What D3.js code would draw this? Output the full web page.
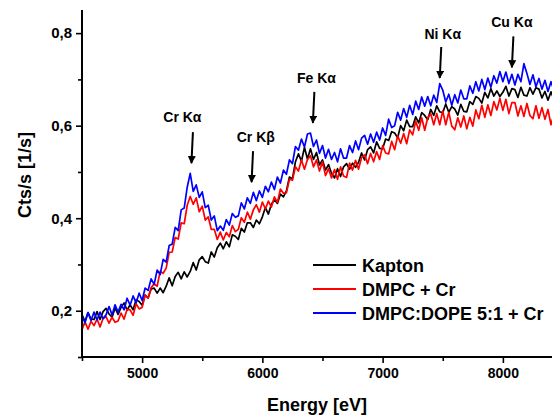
<!DOCTYPE html>
<meta charset = "utf-8">
<html>
  <head>
    <title>XRF spectra</title>
    <style>
      body { margin: 0; background: #fff; }
      text { font-family: Arial, "Liberation Sans", sans-serif; font-weight: bold; fill: #000; }
    </style>
  </head>
  <body>
    <script src="https://d3js.org/d3.v7.min.js"></script>
  <script>

  /*
      Data (energy grid in eV, counts in cts/s)
  */
  var energyStart = 4500, energyStep = 25;

  var kapton = [
    .191,.177,.196,.182, .181,.198,.181,.198, .205,.193,.186,.206, .192,.207,.217,.201,
    .213,.202,.224,.220, .212,.234,.228,.247, .249,.238,.249,.239, .253,.271,.254,.274,
    .283,.269,.284,.273, .285,.304,.288,.310, .317,.306,.303,.327, .316,.336,.346,.334,
    .349,.338,.364,.361, .354,.378,.370,.390, .390,.380,.396,.388, .403,.423,.409,.430,
    .440,.432,.452,.446, .459,.489,.485,.522, .539,.523,.553,.528, .550,.527,.542,.515,
    .526,.504,.516,.497, .487,.507,.490,.511, .518,.506,.519,.510, .521,.541,.526,.548,
    .554,.541,.565,.551, .550,.571,.568,.587, .584,.574,.600,.589, .612,.598,.598,.619,
    .606,.628,.622,.613, .635,.622,.643,.630, .628,.647,.629,.641, .636,.623,.646,.631,
    .630,.652,.646,.663, .659,.649,.672,.660, .680,.664,.675,.663, .672,.685,.664,.680,
    .678,.661,.683,.666, .664,.682,.668,.682, .679,.660,.674,.655, .673,.657,.673
  ];

  var dmpc = [
    .159,.176,.160,.177, .168,.182,.165,.183, .187,.173,.186,.175, .178,.195,.182,.203,
    .202,.190,.215,.204, .207,.234,.227,.250, .258,.253,.285,.281, .292,.326,.327,.358,
    .355,.390,.388,.428, .447,.430,.444,.414, .426,.396,.403,.376, .376,.354,.370,.353,
    .369,.360,.384,.371, .376,.401,.391,.413, .398,.418,.429,.413, .435,.420,.437,.424,
    .446,.434,.463,.454, .455,.484,.482,.511, .502,.526,.506,.527, .535,.511,.526,.502,
    .522,.492,.507,.487, .505,.484,.511,.491, .488,.519,.504,.525, .506,.531,.537,.518,
    .540,.522,.544,.527, .557,.541,.539,.566, .548,.578,.562,.583, .561,.591,.580,.610,
    .590,.617,.590,.617, .626,.602,.626,.602, .632,.602,.629,.599, .591,.617,.597,.621,
    .593,.618,.599,.634, .615,.644,.618,.645, .622,.652,.634,.659, .633,.657,.626,.650,
    .650,.621,.643,.620, .648,.622,.615,.643, .616,.639,.614,.635, .602,.625,.600
  ];

  var dmpcDope = [
    .189,.174,.196,.179, .197,.180,.197,.183, .191,.209,.191,.213, .197,.214,.202,.227,
    .212,.232,.217,.238, .222,.249,.244,.269, .257,.288,.278,.311, .305,.341,.344,.380,
    .373,.418,.422,.467, .497,.458,.472,.445, .457,.423,.428,.396, .405,.373,.383,.374,
    .397,.385,.410,.402, .405,.433,.420,.444, .432,.456,.438,.459, .445,.469,.457,.478,
    .462,.489,.476,.504, .495,.526,.518,.555, .547,.571,.554,.582, .584,.555,.569,.540,
    .557,.530,.549,.527, .542,.522,.550,.530, .530,.557,.542,.567, .548,.573,.579,.560,
    .582,.564,.586,.569, .595,.579,.614,.596, .600,.629,.612,.637, .618,.644,.624,.653,
    .635,.662,.642,.663, .643,.666,.650,.691, .677,.651,.668,.644, .667,.649,.677,.658,
    .658,.686,.670,.695, .675,.700,.678,.703, .683,.708,.692,.717, .695,.716,.691,.711,
    .688,.711,.695,.734, .713,.689,.710,.684, .702,.679,.698,.674, .695,.676,.695
  ];

  var seriesNames = ["Kapton", "DMPC + Cr", "DMPC:DOPE 5:1 + Cr"];
  var seriesColors = ["#000000", "#ff0000", "#0000ff"];

  // peak labels: line energy, where the label sits, arrow tip value, label value
  var peakLabels = ["Cr K\u03b1", "Cr K\u03b2", "Fe K\u03b1", "Ni K\u03b1", "Cu K\u03b1"];
  var peakEnergy = [5410, 5910, 6420, 7475, 8075];
  var peakTextEnergy = [5335, 5945, 6450, 7500, 8075];
  var peakTip = [0.519, 0.478, 0.606, 0.703, 0.726];
  var peakText = [0.608, 0.565, 0.692, 0.787, 0.813];

  var xMajor = [5000, 6000, 7000, 8000];
  var xMinor = [4500, 5500, 6500, 7500];
  var yMajor = [0.2, 0.4, 0.6, 0.8];
  var yMinor = [0.1, 0.3, 0.5, 0.7];

  /*
      Chart
  */
  var width = 552, height = 415;

  var svg = d3.select("body").append("svg")
      .attr("width", width)
      .attr("height", height);

  var x = d3.scaleLinear()
      .domain([4500, 8500])
      .range([82, 563]);

  var y = d3.scaleLinear()
      .domain([0.1, 0.85])
      .range([357, 10]);

  var line = d3.line()
      .x(function(d, i) { return x(energyStart + i * energyStep); })
      .y(function(d) { return y(d); });

  svg.append("defs").append("clipPath")
      .attr("id", "plotclip")
    .append("rect")
      .attr("x", 82).attr("y", 0)
      .attr("width", width - 82).attr("height", 357);

  var spectra = [kapton, dmpc, dmpcDope];
  svg.append("g")
      .attr("clip-path", "url(#plotclip)")
    .selectAll("path")
      .data(spectra)
    .enter().append("path")
      .attr("d", line)
      .style("fill", "none")
      .style("stroke", function(d, i) { return seriesColors[i]; })
      .style("stroke-width", 1.7)
      .style("stroke-linejoin", "round");

  // axes: major ticks labelled, minor ticks shorter
  var fmt = function(d) { return d3.format(".1f")(d).replace(".", ","); };

  var xAxis = svg.append("g").attr("transform", "translate(0,357)");
  xAxis.call(d3.axisBottom(x).tickValues(xMajor).tickSize(6).tickPadding(5).tickFormat(d3.format("d")));
  svg.append("g").attr("transform", "translate(0,357)")
      .call(d3.axisBottom(x).tickValues(xMinor).tickSize(4).tickFormat(""));

  var yAxis = svg.append("g").attr("transform", "translate(82,0)");
  yAxis.call(d3.axisLeft(y).tickValues(yMajor).tickSize(6).tickPadding(4).tickFormat(fmt));
  svg.append("g").attr("transform", "translate(82,0)")
      .call(d3.axisLeft(y).tickValues(yMinor).tickSize(4).tickFormat(""));

  svg.selectAll(".domain").remove();
  svg.selectAll(".tick line").style("stroke", "#000").style("stroke-width", 1.6);
  xAxis.selectAll("text").style("font-size", "14px").style("font-family", "Arial, 'Liberation Sans', sans-serif").style("font-weight", "bold");
  yAxis.selectAll("text").style("font-size", "15px").style("font-family", "Arial, 'Liberation Sans', sans-serif").style("font-weight", "bold");

  svg.append("line")
      .attr("x1", 82).attr("x2", width)
      .attr("y1", 357).attr("y2", 357)
      .style("stroke", "#000").style("stroke-width", 2);
  svg.append("line")
      .attr("x1", 82).attr("x2", 82)
      .attr("y1", 10).attr("y2", 358)
      .style("stroke", "#000").style("stroke-width", 2);

  svg.append("text")
      .attr("x", 317).attr("y", 411)
      .style("text-anchor", "middle")
      .style("font-size", "18px")
      .text("Energy [eV]");

  svg.append("text")
      .attr("transform", "translate(31,175) rotate(-90)")
      .style("text-anchor", "middle")
      .style("font-size", "18px")
      .text("Cts/s [1/s]");

  // peak annotations with arrows
  svg.append("defs").append("marker")
      .attr("id", "arrowhead")
      .attr("viewBox", "0 0 10 10")
      .attr("refX", 9).attr("refY", 5)
      .attr("markerWidth", 4).attr("markerHeight", 4)
      .attr("markerUnits", "strokeWidth")
      .attr("orient", "auto")
    .append("path")
      .attr("d", "M0,0 L10,5 L0,10 z")
      .style("fill", "#000");

  peakLabels.forEach(function(lbl, i) {
    svg.append("text")
        .attr("x", x(peakTextEnergy[i]))
        .attr("y", y(peakText[i]))
        .style("text-anchor", "middle")
        .style("font-size", "14px")
        .text(lbl);
    svg.append("line")
        .attr("x1", x(peakEnergy[i]) + 1.5).attr("y1", y(peakTip[i]) - 31)
        .attr("x2", x(peakEnergy[i])).attr("y2", y(peakTip[i]))
        .style("stroke", "#000")
        .style("stroke-width", 2)
        .attr("marker-end", "url(#arrowhead)");
  });

  // legend
  var legend = svg.append("g").attr("transform", "translate(313,265)");
  seriesNames.forEach(function(name, i) {
    legend.append("line")
        .attr("x1", 0).attr("x2", 43)
        .attr("y1", i * 24).attr("y2", i * 24)
        .style("stroke", seriesColors[i])
        .style("stroke-width", 2);
    legend.append("text")
        .attr("x", 49).attr("y", i * 24 + 6.5)
        .style("font-size", "18px")
        .text(name);
  });

  </script>
  </body>
</html>
